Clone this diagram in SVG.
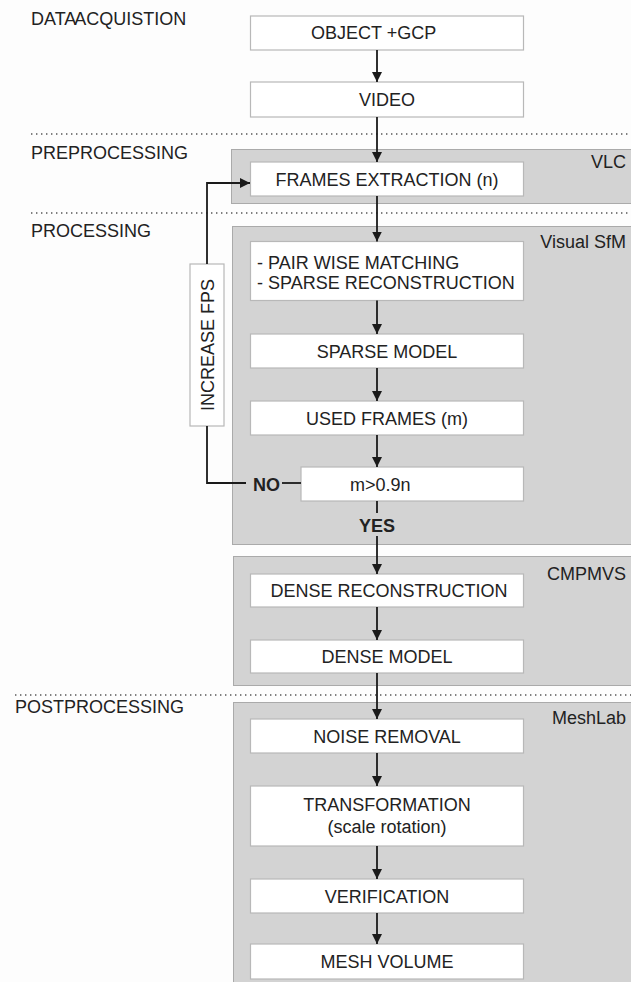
<svg xmlns="http://www.w3.org/2000/svg" width="631" height="982" viewBox="0 0 631 982">
<style>
text{font-family:"Liberation Sans",Arial,sans-serif;font-size:18px;fill:#222}
.c{text-anchor:middle}
.e{text-anchor:end}
.b{font-weight:bold}
.panel{fill:#d3d3d3;stroke:#aaaaaa;stroke-width:1}
.box{fill:#ffffff;stroke:#b8b8b8;stroke-width:1.2}
.ln{fill:none;stroke:#1a1a1a;stroke-width:1.8}
.dot{fill:none;stroke:#555;stroke-width:1.6;stroke-dasharray:1.4 3.6}
</style>
<defs>
<marker id="ah" viewBox="0 0 10 10" refX="10" refY="5" markerWidth="10" markerHeight="10" markerUnits="userSpaceOnUse" orient="auto">
<path d="M0,0 L10,5 L0,10 z" fill="#1a1a1a"/>
</marker>
</defs>
<rect width="631" height="982" fill="#fdfdfd"/>
<g id="sections">
<line class="dot" x1="31" y1="134" x2="631" y2="134"/>
<line class="dot" x1="31" y1="213" x2="631" y2="213"/>
<line class="dot" x1="15" y1="695" x2="631" y2="695"/>
<text x="31" y="24.5" style="word-spacing:-5px">DATA ACQUISTION</text>
<text x="31" y="159">PREPROCESSING</text>
<text x="31" y="237">PROCESSING</text>
<text x="15" y="713">POSTPROCESSING</text>
</g>
<g id="panel-vlc"><rect class="panel" x="231.5" y="149.5" width="405" height="54"/><text class="e" x="626" y="168">VLC</text></g>
<g id="panel-sfm"><rect class="panel" x="232.5" y="226.5" width="405" height="318"/><text class="e" x="626" y="248">Visual SfM</text></g>
<g id="panel-cmpmvs"><rect class="panel" x="233.5" y="556.5" width="405" height="129"/><text class="e" x="626" y="580">CMPMVS</text></g>
<g id="panel-meshlab"><rect class="panel" x="233.5" y="702.5" width="405" height="290"/><text class="e" x="626" y="724">MeshLab</text></g>
<g id="n-object"><rect class="box" x="250.5" y="16" width="273" height="34"/><text x="311" y="39">OBJECT +GCP</text></g>
<g id="n-video"><rect class="box" x="250.5" y="82" width="273" height="35"/><text class="c" x="387" y="106">VIDEO</text></g>
<g id="n-frames"><rect class="box" x="250.5" y="162" width="273" height="34"/><text class="c" x="387" y="185.5">FRAMES EXTRACTION (n)</text></g>
<g id="n-pair"><rect class="box" x="250.5" y="241.5" width="273" height="59"/><text x="257" y="268.5">- PAIR WISE MATCHING</text><text x="257" y="289">- SPARSE RECONSTRUCTION</text></g>
<g id="n-sparse"><rect class="box" x="250.5" y="334" width="273" height="34"/><text class="c" x="387" y="357.5">SPARSE MODEL</text></g>
<g id="n-used"><rect class="box" x="250.5" y="401" width="273" height="34"/><text class="c" x="387" y="424.5">USED FRAMES (m)</text></g>
<g id="n-cond"><rect class="box" x="301" y="467" width="222.5" height="34"/><text x="350" y="490.5">m&gt;0.9n</text></g>
<g id="n-increase"><rect class="box" x="190" y="264" width="34" height="162"/><text class="c" transform="translate(213.5,345) rotate(-90)">INCREASE FPS</text></g>
<g id="n-dense-rec"><rect class="box" x="250.5" y="574" width="273" height="33"/><text class="c" x="389" y="597">DENSE RECONSTRUCTION</text></g>
<g id="n-dense-model"><rect class="box" x="250.5" y="640" width="273" height="33"/><text class="c" x="387" y="663">DENSE MODEL</text></g>
<g id="n-noise"><rect class="box" x="250.5" y="719" width="273" height="34"/><text class="c" x="387" y="742.5">NOISE REMOVAL</text></g>
<g id="n-transf"><rect class="box" x="250.5" y="786" width="273" height="60"/><text class="c" x="387" y="811">TRANSFORMATION</text><text class="c" x="387" y="832.5">(scale rotation)</text></g>
<g id="n-verif"><rect class="box" x="250.5" y="879" width="273" height="34"/><text class="c" x="387" y="902.5">VERIFICATION</text></g>
<g id="n-mesh"><rect class="box" x="250.5" y="944" width="273" height="35"/><text class="c" x="387" y="968">MESH VOLUME</text></g>
<g id="connectors">
<line class="ln" x1="377" y1="50" x2="377" y2="82" marker-end="url(#ah)"/>
<line class="ln" x1="377" y1="117" x2="377" y2="162" marker-end="url(#ah)"/>
<line class="ln" x1="377" y1="196" x2="377" y2="241.5" marker-end="url(#ah)"/>
<line class="ln" x1="377" y1="300.5" x2="377" y2="334" marker-end="url(#ah)"/>
<line class="ln" x1="377" y1="368" x2="377" y2="401" marker-end="url(#ah)"/>
<line class="ln" x1="377" y1="435" x2="377" y2="467" marker-end="url(#ah)"/>
<line class="ln" x1="377" y1="501" x2="377" y2="513"/>
<line class="ln" x1="377" y1="536" x2="377" y2="574" marker-end="url(#ah)"/>
<line class="ln" x1="377" y1="607" x2="377" y2="640" marker-end="url(#ah)"/>
<line class="ln" x1="377" y1="673" x2="377" y2="719" marker-end="url(#ah)"/>
<line class="ln" x1="377" y1="753" x2="377" y2="786" marker-end="url(#ah)"/>
<line class="ln" x1="377" y1="846" x2="377" y2="879" marker-end="url(#ah)"/>
<line class="ln" x1="377" y1="913" x2="377" y2="944" marker-end="url(#ah)"/>
<line class="ln" x1="301" y1="483" x2="282" y2="483"/>
<polyline class="ln" points="246,483 207,483 207,426"/>
<polyline class="ln" points="207,264 207,183 250,183" marker-end="url(#ah)"/>
<text class="b" x="253" y="491">NO</text>
<text class="b c" x="377" y="532">YES</text>
</g>
</svg>
